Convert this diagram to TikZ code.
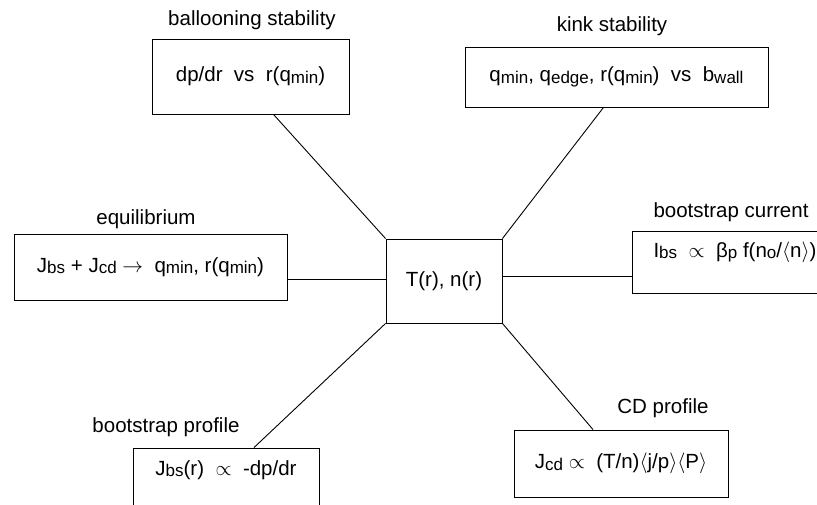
\documentclass[tikz,border=0pt]{standalone}
\usepackage{fontspec}
\setmainfont{Liberation Sans}
\usetikzlibrary{positioning}
\newcommand{\sub}[1]{\raisebox{-1.5pt}{\fontsize{17}{17}\selectfont #1}}

\begin{document}
\begin{tikzpicture}[x=1pt, y=-1pt,
    box/.style={rectangle, draw, line width=0.9pt, inner sep=0pt,
                font=\fontsize{20.5}{24}\selectfont},
    txt/.style={inner sep=0pt, font=\fontsize{20.5}{24}\selectfont},
    link/.style={line width=0.9pt}]
    \useasboundingbox (0,0) rectangle (817,505);
    \node[box, minimum width=197pt, minimum height=75pt] (bal) at (250.5,76.5)
        {dp/dr\ \ vs\ \ r(q\sub{min})};
    \node[txt] (baltitle) at (252,20) {ballooning stability};
    \node[box, minimum width=303pt, minimum height=60pt] (kink) at (616.5,77)
        {q\sub{min}, q\sub{edge}, r(q\sub{min})\ \ vs\ \ b\sub{wall}};
    \node[txt] (kinktitle) at (612,26) {kink stability};
    \node[box, minimum width=273pt, minimum height=66pt] (eq) at (150.5,267)
        {J\sub{bs} + J\sub{cd} $\rightarrow$\ \ q\sub{min}, r(q\sub{min})};
    \node[txt] (eqtitle) at (146,219) {equilibrium};
    \node[box, minimum width=116pt, minimum height=84pt] (ctr) at (444,281)
        {T(r), n(r)};
    \node[box, minimum width=198pt, minimum height=62pt] (bc) at (731,262) {};
    \node[txt] (bctext) at (735,252)
        {I\sub{bs}\ \ $\propto$\ \ β\sub{p} f(n\sub{o}/$\langle$n$\rangle$)};
    \node[txt] (bctitle) at (731,212) {bootstrap current};
    \node[box, minimum width=186pt, minimum height=82pt] (bp) at (226,489) {};
    \node[txt] (bptext) at (226,470) {J\sub{bs}(r)\ \ $\propto$\ \ -dp/dr};
    \node[txt] (bptitle) at (166,427) {bootstrap profile};
    \node[box, minimum width=214pt, minimum height=67pt] (cd) at (621,463.5)
        {J\sub{cd}\ $\propto$\ \ (T/n)$\langle$j/p$\rangle\langle$P$\rangle$};
    \node[txt] (cdtitle) at (663,408) {CD profile};
    \draw[link] ([xshift=23pt]bal.south) -- (ctr.north west);
    \draw[link] ([xshift=-13pt]kink.south) -- (ctr.north east);
    \draw[link] ([yshift=2pt]ctr.west) -- ([yshift=2pt]ctr.west -| eq.east);
    \draw[link] ([yshift=5pt]ctr.east) -- ([yshift=5pt]ctr.east -| bc.west);
    \draw[link] ([xshift=28pt]bp.north) -- (ctr.south west);
    \draw[link] ([xshift=-28pt]cd.north) -- (ctr.south east);
\end{tikzpicture}
\end{document}
